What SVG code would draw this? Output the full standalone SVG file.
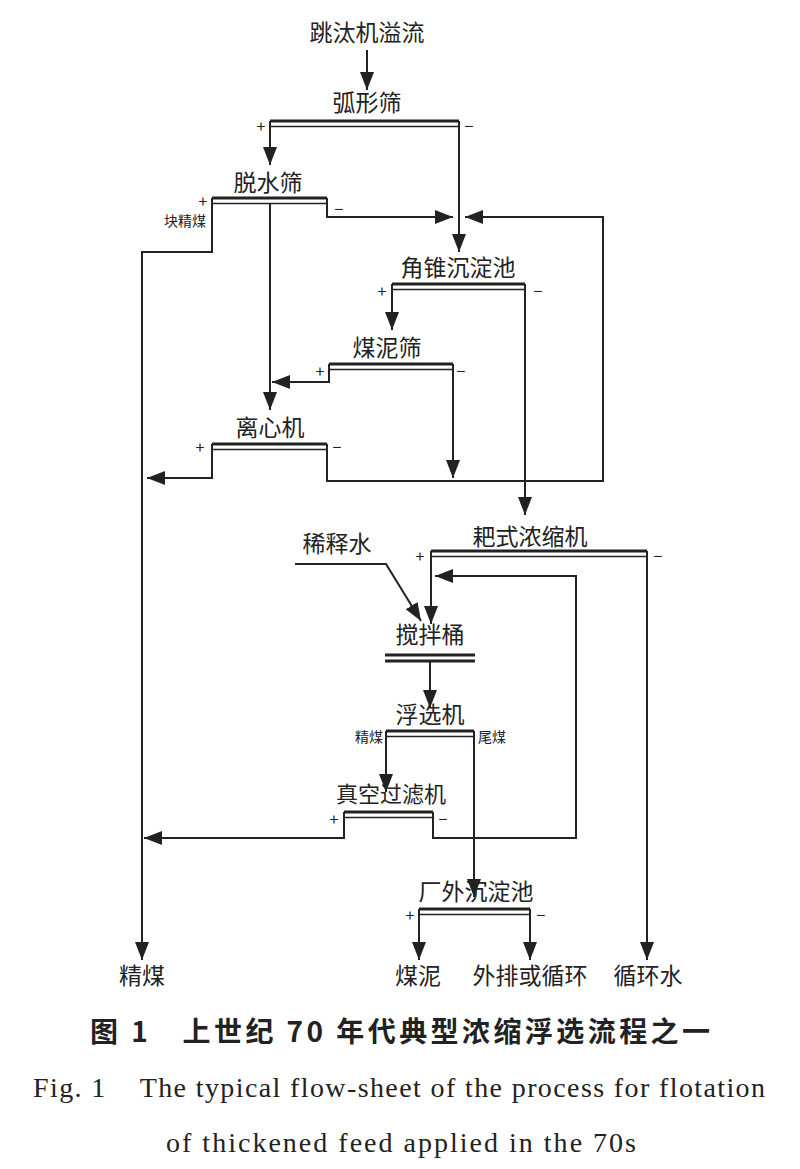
<svg xmlns="http://www.w3.org/2000/svg" width="800" height="1169" viewBox="0 0 800 1169">
<style>
text{font-family:"Noto Sans CJK SC","Liberation Serif",serif;fill:#222}
.l{font-size:23px;text-anchor:middle}
.s{font-size:14px}
.pm{font-size:16px;text-anchor:middle}
.c{fill:none;stroke:#222;stroke-width:2}
.b1{stroke:#222;stroke-width:3}
.b2{stroke:#222;stroke-width:1.5}
</style>
<defs>
<marker id="a" markerUnits="userSpaceOnUse" markerWidth="20" markerHeight="14" refX="18" refY="7" orient="auto">
<path d="M0,0 L18,7 L0,14 Z" fill="#222"/>
</marker>
</defs>
<rect width="800" height="1169" fill="#fff"/>
<g id="nodes">
<g id="n0"><text class="l" x="367" y="41">跳汰机溢流</text></g>
<g id="n1"><text class="l" x="367" y="111">弧形筛</text><line class="b1" x1="270" y1="121" x2="459" y2="121"/><line class="b2" x1="270" y1="126.5" x2="459" y2="126.5"/><text class="pm" x="261" y="132">+</text><text class="pm" x="469" y="132">−</text></g>
<g id="n2"><text class="l" x="268" y="191">脱水筛</text><line class="b1" x1="212" y1="198" x2="327" y2="198"/><line class="b2" x1="212" y1="203.5" x2="327" y2="203.5"/><text class="pm" x="203" y="207">+</text><text class="pm" x="339" y="215">−</text><text class="s" x="206" y="226" text-anchor="end">块精煤</text></g>
<g id="n3"><text class="l" x="458" y="276">角锥沉淀池</text><line class="b1" x1="392" y1="284" x2="525" y2="284"/><line class="b2" x1="392" y1="289.5" x2="525" y2="289.5"/><text class="pm" x="382" y="297">+</text><text class="pm" x="538" y="297">−</text></g>
<g id="n4"><text class="l" x="387" y="356">煤泥筛</text><line class="b1" x1="329" y1="364" x2="453" y2="364"/><line class="b2" x1="329" y1="369.5" x2="453" y2="369.5"/><text class="pm" x="320" y="377">+</text><text class="pm" x="461" y="377">−</text></g>
<g id="n5"><text class="l" x="270" y="436">离心机</text><line class="b1" x1="212" y1="444" x2="327" y2="444"/><line class="b2" x1="212" y1="449.5" x2="327" y2="449.5"/><text class="pm" x="200" y="453">+</text><text class="pm" x="337" y="453">−</text></g>
<g id="n6"><text class="l" x="530" y="545">耙式浓缩机</text><line class="b1" x1="431" y1="551" x2="647" y2="551"/><line class="b2" x1="431" y1="556.5" x2="647" y2="556.5"/><text class="pm" x="420" y="562">+</text><text class="pm" x="658" y="562">−</text></g>
<g id="n7"><text class="l" x="337" y="552">稀释水</text></g>
<g id="n8"><text class="l" x="430" y="643">搅拌桶</text><line class="b1" x1="385" y1="655" x2="475" y2="655"/><line class="b1" x1="385" y1="661" x2="475" y2="661"/></g>
<g id="n9"><text class="l" x="430" y="723">浮选机</text><line class="b1" x1="386" y1="731" x2="474" y2="731"/><line class="b2" x1="386" y1="736.5" x2="474" y2="736.5"/><text class="s" x="383" y="742" text-anchor="end">精煤</text><text class="s" x="478" y="742">尾煤</text></g>
<g id="n10"><text class="l" x="391" y="802" style="font-size:22px">真空过滤机</text><line class="b1" x1="344" y1="812" x2="433" y2="812"/><line class="b2" x1="344" y1="817.5" x2="433" y2="817.5"/><text class="pm" x="334" y="825">+</text><text class="pm" x="443" y="825">−</text></g>
<g id="n11"><text class="l" x="476" y="900">厂外沉淀池</text><line class="b1" x1="419" y1="909" x2="530" y2="909"/><line class="b2" x1="419" y1="914.5" x2="530" y2="914.5"/><text class="pm" x="410" y="921">+</text><text class="pm" x="541" y="921">−</text></g>
<g id="n12"><text class="l" x="142" y="984">精煤</text></g>
<g id="n13"><text class="l" x="418" y="984">煤泥</text></g>
<g id="n14"><text class="l" x="530" y="984">外排或循环</text></g>
<g id="n15"><text class="l" x="648" y="984">循环水</text></g>
</g>
<g id="connectors" class="c">
<line x1="367" y1="50" x2="367" y2="90" marker-end="url(#a)"/>
<line x1="270" y1="121" x2="270" y2="165" marker-end="url(#a)"/>
<line x1="459" y1="121" x2="459" y2="252" marker-end="url(#a)"/>
<polyline points="212,198 212,252 142,252 142,960" marker-end="url(#a)"/>
<line x1="270" y1="203" x2="270" y2="410" marker-end="url(#a)"/>
<polyline points="327,198 327,217 453,217" marker-end="url(#a)"/>
<polyline points="327,444 327,481 603,481 603,217 465,217" marker-end="url(#a)"/>
<line x1="392" y1="284" x2="392" y2="330" marker-end="url(#a)"/>
<polyline points="525,284 525,515" marker-end="url(#a)"/>
<polyline points="329,364 329,382 272,382" marker-end="url(#a)"/>
<line x1="453" y1="364" x2="453" y2="478" marker-end="url(#a)"/>
<polyline points="212,444 212,478 147,478" marker-end="url(#a)"/>
<line x1="431" y1="551" x2="431" y2="624" marker-end="url(#a)"/>
<line x1="647" y1="551" x2="647" y2="960" marker-end="url(#a)"/>
<polyline points="295,564 386,564 421,621" marker-end="url(#a)"/>
<line x1="430" y1="662" x2="430" y2="708" marker-end="url(#a)"/>
<line x1="386" y1="731" x2="386" y2="792" marker-end="url(#a)"/>
<line x1="474" y1="731" x2="474" y2="897" marker-end="url(#a)"/>
<polyline points="344,812 344,838 144,838" marker-end="url(#a)"/>
<polyline points="433,812 433,838 576,838 576,576 435,576" marker-end="url(#a)"/>
<line x1="419" y1="909" x2="419" y2="960" marker-end="url(#a)"/>
<line x1="530" y1="909" x2="530" y2="960" marker-end="url(#a)"/>
</g>
<text x="90" y="1042" style="font-size:28px;font-weight:bold" textLength="620" lengthAdjust="spacing">图 1　上世纪 70 年代典型浓缩浮选流程之一</text>
<text x="33" y="1097" style="font-family:'Liberation Serif',serif;font-size:28px" textLength="732" lengthAdjust="spacing" xml:space="preserve">Fig. 1    The typical flow-sheet of the process for flotation</text>
<text x="166" y="1152" style="font-family:'Liberation Serif',serif;font-size:28px" textLength="470" lengthAdjust="spacing">of thickened feed applied in the 70s</text>
</svg>
